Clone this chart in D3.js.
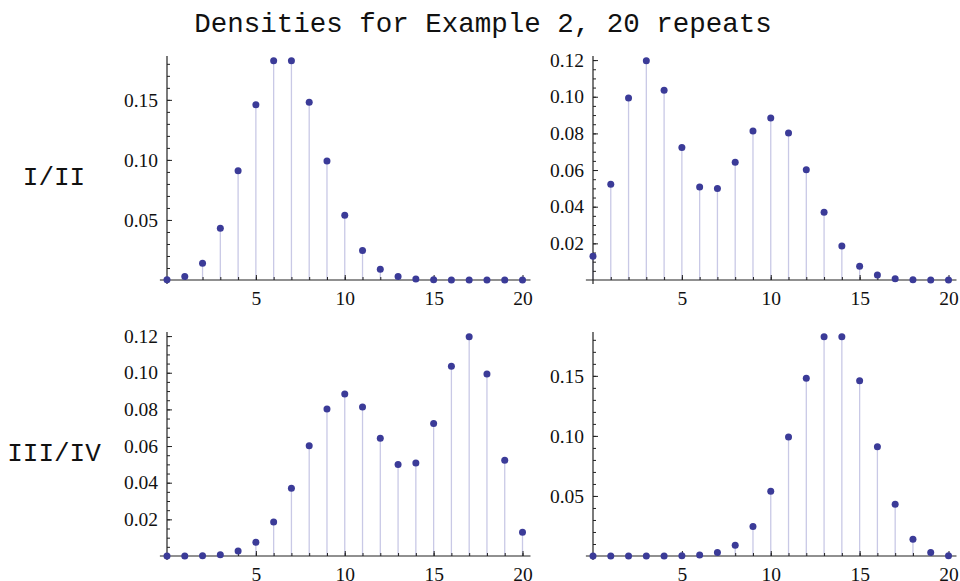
<!DOCTYPE html>
<html>
<head>
<meta charset="utf-8">
<script src="https://cdn.jsdelivr.net/npm/d3@7"></script>
<style>
  body { margin: 0; background: #fff; }
  svg { display: block; }
</style>
</head>
<body>
<svg id="canvas"></svg>
<script>
let width = 960
let height = 581

// chart data
let ks = [0, 1, 2, 3, 4, 5, 6, 7, 8, 9, 10, 11, 12, 13, 14, 15, 16, 17, 18, 19, 20]
let densI = [0.0002, 0.003, 0.014, 0.043, 0.091, 0.146, 0.1825, 0.1825, 0.148, 0.099, 0.054, 0.0245, 0.009, 0.003, 0.0008, 0.0002, 0.0001, 0, 0, 0, 0]
let densII = [0.0129, 0.0523, 0.0993, 0.1196, 0.1035, 0.0723, 0.0508, 0.0499, 0.0643, 0.0813, 0.0884, 0.0802, 0.0601, 0.037, 0.0185, 0.0075, 0.0027, 0.0007, 0.0002, 0, 0]
let densIII = [0, 0, 0.0002, 0.0007, 0.0027, 0.0075, 0.0185, 0.037, 0.0601, 0.0802, 0.0884, 0.0813, 0.0643, 0.0499, 0.0508, 0.0723, 0.1035, 0.1196, 0.0993, 0.0523, 0.0129]
let densIV = [0, 0, 0, 0, 0.0001, 0.0002, 0.0008, 0.003, 0.009, 0.0245, 0.054, 0.099, 0.148, 0.1825, 0.1825, 0.146, 0.091, 0.043, 0.014, 0.003, 0.0002]

let xTicks = [5, 10, 15, 20]
let yTicksBig = [0.05, 0.10, 0.15]
let yTicksSmall = [0.02, 0.04, 0.06, 0.08, 0.10, 0.12]

let titleText = 'Densities for Example 2, 20 repeats'
let rowLabels = ['I/II', 'III/IV']

let panels = [
    { data: densI, col: 0, row: 0, majors: yTicksBig, minorStep: 0.01 },
    { data: densII, col: 1, row: 0, majors: yTicksSmall, minorStep: 0.005 },
    { data: densIII, col: 0, row: 1, majors: yTicksSmall, minorStep: 0.005 },
    { data: densIV, col: 1, row: 1, majors: yTicksBig, minorStep: 0.01 }
]

let colX = [167, 593]      // pixel of k = 0
let rowY = [280, 556]      // pixel of density 0
let plotW = 355.5          // pixels for k 0..20
let plotH = 224            // axis height above 0

let dotColor = '#3b3b98'
let stemColor = '#c9c9e6'
let axisColor = '#222'
let serif = '"Liberation Serif", serif'
let mono = '"Liberation Mono", monospace'

let svg = d3.select('#canvas')
svg.attr('width', width)
svg.attr('height', height)

svg.append('text')
    .attr('x', 483)
    .attr('y', 32)
    .attr('text-anchor', 'middle')
    .style('font-family', mono)
    .style('font-size', '27.5px')
    .attr('fill', '#111')
    .text(titleText)

svg.selectAll('.row-label')
    .data(rowLabels)
    .enter()
    .append('text')
    .attr('class', 'row-label')
    .attr('x', 54)
    .attr('y', (d, i) => i === 0 ? 185 : 461)
    .attr('text-anchor', 'middle')
    .attr('fill', '#111')
    .style('font-family', mono)
    .style('font-size', '26px')
    .text((d) => d)

let drawPanel = (p) => {
    let x0 = colX[p.col]
    let y0 = rowY[p.row]
    let ymax = d3.max(p.data)
    let top = ymax * 1.022

    let xScale = d3.scaleLinear()
                .domain([0, 20])
                .range([x0, x0 + plotW])

    let yScale = d3.scaleLinear()
                .domain([0, top])
                .range([y0, y0 - plotH])

    let g = svg.append('g')

    // stems
    g.selectAll('line.stem')
        .data(ks)
        .enter()
        .append('line')
        .attr('class', 'stem')
        .attr('x1', (k) => xScale(k))
        .attr('x2', (k) => xScale(k))
        .attr('y1', yScale(0))
        .attr('y2', (k) => yScale(p.data[k]))
        .attr('stroke', stemColor)
        .attr('stroke-width', 1.3)

    // minor ticks
    let minors = d3.range(p.minorStep, top, p.minorStep)
    let xAxisMinor = d3.axisBottom(xScale)
                    .tickValues(ks.slice(1))
                    .tickSize(-3)
                    .tickFormat('')
    let yAxisMinor = d3.axisLeft(yScale)
                    .tickValues(minors)
                    .tickSize(-3)
                    .tickFormat('')

    let xAxis = d3.axisBottom(xScale)
                    .tickValues(xTicks)
                    .tickSize(-5)
                    .tickPadding(11)
                    .tickFormat(d3.format('d'))
    let yAxis = d3.axisLeft(yScale)
                    .tickValues(p.majors)
                    .tickSize(-5)
                    .tickPadding(9)
                    .tickFormat(d3.format('.2f'))

    let styleAxis = (a) => {
        a.attr('font-family', serif).attr('font-size', 19.5)
        a.select('.domain').remove()
        a.selectAll('line').attr('stroke', axisColor)
        a.selectAll('text').attr('fill', '#111')
    }

    g.append('g').attr('transform', 'translate(0, ' + y0 + ')').call(xAxisMinor).call(styleAxis)
    g.append('g').attr('transform', 'translate(' + x0 + ', 0)').call(yAxisMinor).call(styleAxis)
    g.append('g').attr('transform', 'translate(0, ' + y0 + ')').call(xAxis).call(styleAxis)
    g.append('g').attr('transform', 'translate(' + x0 + ', 0)').call(yAxis).call(styleAxis)

    // axis lines, crossing at the origin
    g.append('line')
        .attr('x1', xScale(-0.4)).attr('x2', xScale(20.45))
        .attr('y1', y0).attr('y2', y0)
        .attr('stroke', axisColor)
        .attr('stroke-width', 1.2)
    g.append('line')
        .attr('x1', x0).attr('x2', x0)
        .attr('y1', y0 + 4).attr('y2', yScale(top))
        .attr('stroke', axisColor)
        .attr('stroke-width', 1.2)

    // points
    g.selectAll('circle')
        .data(ks)
        .enter()
        .append('circle')
        .attr('cx', (k) => xScale(k))
        .attr('cy', (k) => yScale(p.data[k]))
        .attr('r', 3.5)
        .attr('fill', dotColor)
}

panels.forEach(drawPanel)
</script>
</body>
</html>
